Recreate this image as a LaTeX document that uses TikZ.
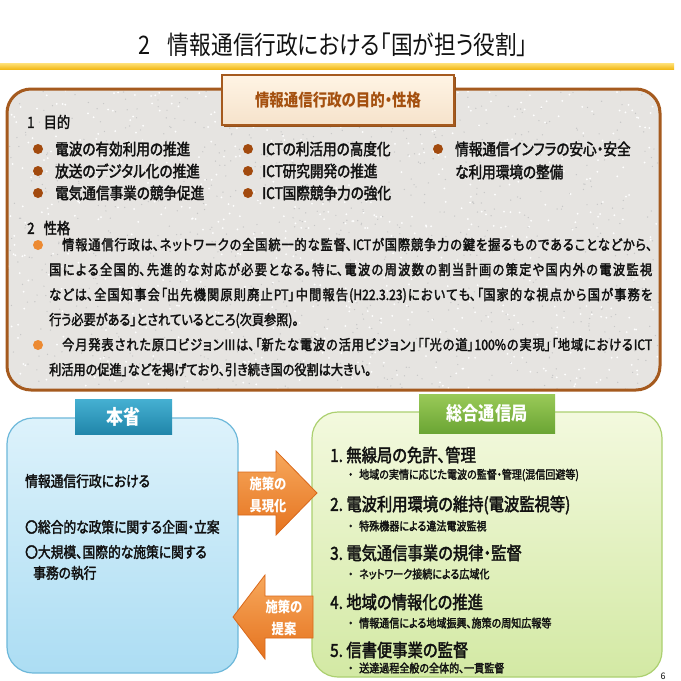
\documentclass[tikz,border=0pt]{standalone}
\usepackage{fontspec}
\newfontfamily\jc[FakeStretch=0.85,RawFeature=+palt]{Noto Sans CJK JP}
\newfontfamily\jm[FakeStretch=0.85,FakeBold=2.2,RawFeature=+palt]{Noto Sans CJK JP}
\newfontfamily\jn[RawFeature=+palt]{Noto Sans CJK JP}
\XeTeXlinebreaklocale "ja"
\XeTeXlinebreakskip=0pt plus 3pt
\definecolor{goldline}{HTML}{F3BA1A}
\definecolor{goldlight}{HTML}{FFE27A}
\definecolor{brownborder}{HTML}{A55A1E}
\definecolor{boxgrey}{HTML}{E6E4E1}
\definecolor{hdrfill}{HTML}{FFF4E4}
\definecolor{hdrtext}{HTML}{A4500F}
\definecolor{bulA}{HTML}{A24A0E}
\definecolor{bulB}{HTML}{EC8A32}
\definecolor{txt}{HTML}{111111}
\definecolor{blueT}{HTML}{DDF2FB}
\definecolor{blueB}{HTML}{ACDDF3}
\definecolor{blueE}{HTML}{6DB8DA}
\definecolor{bhT}{HTML}{45B0D2}
\definecolor{bhB}{HTML}{2186AA}
\definecolor{greenT}{HTML}{F3F9DE}
\definecolor{greenB}{HTML}{D3E9A4}
\definecolor{greenE}{HTML}{ACD070}
\definecolor{ghT}{HTML}{9ACA58}
\definecolor{ghB}{HTML}{6BA534}
\definecolor{arT}{HTML}{F7A85C}
\definecolor{arB}{HTML}{E5731F}
\definecolor{arE}{HTML}{D9681A}
\tikzset{
  lbl/.style={anchor=west,inner sep=0,text=txt},
  itemA/.style={lbl,font=\jm\fontsize{16}{18}\selectfont},
  secA/.style={lbl,font=\jm\fontsize{15.5}{18}\selectfont},
  bulletA/.style={circle,fill=bulA,minimum size=10,inner sep=0},
  bulletB/.style={circle,fill=bulB,minimum size=10,inner sep=0},
  para/.style={anchor=base west,inner sep=0,text width=603,align=justify,text=txt,
     font=\jm\fontsize{14.3}{25}\selectfont},
  bluetxt/.style={lbl,font=\jm\fontsize{15}{18}\selectfont},
  gitem/.style={lbl,font=\jm\fontsize{18}{20}\selectfont},
  gsub/.style={lbl,font=\jm\fontsize{11.8}{13}\selectfont},
  arrowfill/.style={top color=arT,bottom color=arB,draw=arE,line width=0.8},
  arrowtxt/.style={align=center,inner sep=0,text=white,font=\jc\bfseries\fontsize{14.5}{22}\selectfont}
}
\begin{document}
\begin{tikzpicture}[x=1pt,y=-1pt]
\useasboundingbox (0,0) rectangle (681,681);
\fill[white] (0,0) rectangle (681,681);
% title and gold rule
\node[inner sep=0,text=txt,font=\jc\fontsize{25.5}{28}\selectfont] (title) at (333,45) {2\hspace{0.7em}情報通信行政における「国が担う役割」};
\fill[top color=goldlight,bottom color=goldline] (0,63) rectangle (674,69);
% brown panel with granite speckle
\fill[boxgrey,rounded corners=24] (7,89) rectangle (660,390);
\begin{scope}
\clip[rounded corners=24] (7,89) rectangle (660,390);
\pgfmathsetseed{7}
\foreach \i in {1,...,900} {
  \pgfmathsetmacro{\px}{7+653*rnd}
  \pgfmathsetmacro{\py}{89+301*rnd}
  \fill[black!22] (\px,\py) circle (0.7);
}
\foreach \i in {1,...,700} {
  \pgfmathsetmacro{\px}{7+653*rnd}
  \pgfmathsetmacro{\py}{89+301*rnd}
  \fill[white] (\px,\py) circle (1.0);
}
\end{scope}
\draw[draw=brownborder,line width=3,rounded corners=24] (7,89) rectangle (660,390);
\fill[brownborder!90!black] (224,77) rectangle (456,127);
\node[draw=brownborder,line width=1.2,top color=hdrfill,bottom color=hdrfill!85!brown,
      minimum width=232,minimum height=50,inner sep=0,
      text=hdrtext,font=\jc\bfseries\fontsize{17}{20}\selectfont] (hdr) at (338,100) {情報通信行政の目的・性格};
\node[secA] (s1) at (27,122) {1\hspace{0.6em}目的};
\node[bulletA] (a1) at (38,149) {};
\node[bulletA] (a2) at (38,171) {};
\node[bulletA] (a3) at (38,193) {};
\node[itemA] (t1) at (55,149) {電波の有効利用の推進};
\node[itemA] (t2) at (55,171) {放送のデジタル化の推進};
\node[itemA] (t3) at (55,193) {電気通信事業の競争促進};
\node[bulletA] (a4) at (248,149) {};
\node[bulletA] (a5) at (248,171) {};
\node[bulletA] (a6) at (248,193) {};
\node[itemA] (t4) at (262,149) {ICTの利活用の高度化};
\node[itemA] (t5) at (262,171) {ICT研究開発の推進};
\node[itemA] (t6) at (262,193) {ICT国際競争力の強化};
\node[bulletA] (a7) at (438,149) {};
\node[itemA] (t7) at (455,149) {情報通信インフラの安心・安全};
\node[itemA] (t8) at (455,172) {な利用環境の整備};
\node[secA] (s2) at (27,228) {2\hspace{0.6em}性格};
\node[bulletB] (b1) at (38,245) {};
\node[para] (p1) at (49,250) {\hspace*{13pt}情報通信行政は、ネットワークの全国統一的な監督、ICTが国際競争力の鍵を握るものであることなどから、\linebreak 国による全国的、先進的な対応が必要となる。特に、電波の周波数の割当計画の策定や国内外の電波監視\linebreak などは、全国知事会「出先機関原則廃止PT」中間報告(H22.3.23)においても、「国家的な視点から国が事務を\linebreak 行う必要がある」とされているところ(次頁参照)。};
\node[bulletB] (b2) at (38,345) {};
\node[para] (p2) at (49,350) {\hspace*{13pt}今月発表された原口ビジョンIIIは、「新たな電波の活用ビジョン」「「光の道」100\%の実現」「地域におけるICT\linebreak 利活用の促進」などを掲げており、引き続き国の役割は大きい。};
% blue panel
\draw[top color=blueT,bottom color=blueB,draw=blueE,line width=1.2,rounded corners=26] (7,418) rectangle (238,673);
\node[top color=bhT,bottom color=bhB,minimum width=97,minimum height=35,inner sep=0,
      text=white,font=\jc\bfseries\fontsize{20}{22}\selectfont] (honsho) at (123.5,416.5) {本省};
\node[bluetxt] (h1) at (25,481) {情報通信行政における};
\node[bluetxt] (h2) at (25,527) {〇総合的な政策に関する企画・立案};
\node[bluetxt] (h3) at (25,552) {〇大規模、国際的な施策に関する};
\node[bluetxt] (h4) at (33,573) {事務の執行};
% green panel
\draw[top color=greenT,bottom color=greenB,draw=greenE,line width=1.2,rounded corners=26] (312,412) rectangle (662,677);
\node[top color=ghT,bottom color=ghB,minimum width=136,minimum height=39,inner sep=0,
      text=white,font=\jc\bfseries\fontsize{19}{22}\selectfont] (sogo) at (487,413.5) {総合通信局};
\node[gitem] (g1) at (330,455) {1.\ 無線局の免許、管理};
\node[gsub]  (u1) at (348,475) {・\hspace{6pt}地域の実情に応じた電波の監督・管理(混信回避等)};
\node[gitem] (g2) at (330,505) {2.\ 電波利用環境の維持(電波監視等)};
\node[gsub]  (u2) at (348,526) {・\hspace{6pt}特殊機器による違法電波監視};
\node[gitem] (g3) at (330,553) {3.\ 電気通信事業の規律・監督};
\node[gsub]  (u3) at (348,574) {・\hspace{6pt}ネットワーク接続による広域化};
\node[gitem] (g4) at (330,602) {4.\ 地域の情報化の推進};
\node[gsub]  (u4) at (348,623) {・\hspace{6pt}情報通信による地域振興、施策の周知広報等};
\node[gitem] (g5) at (330,650) {5.\ 信書便事業の監督};
\node[gsub]  (u5) at (348,668) {・\hspace{6pt}送達過程全般の全体的、一貫監督};
% arrows
\path[arrowfill] (238,472) -- (276,472) -- (276,451) -- (317,493) -- (276,535) -- (276,515) -- (238,515) -- cycle;
\node[arrowtxt] (r1) at (268,495) {施策の\\具現化};
\path[arrowfill] (313,596) -- (265,596) -- (265,575) -- (233,617) -- (265,659) -- (265,638) -- (313,638) -- cycle;
\node[arrowtxt] (l1) at (284,618) {施策の\\提案};
\node[inner sep=0,text=txt,font=\jn\fontsize{9}{10}\selectfont] (pg) at (663,676) {6};
\end{tikzpicture}
\end{document}
